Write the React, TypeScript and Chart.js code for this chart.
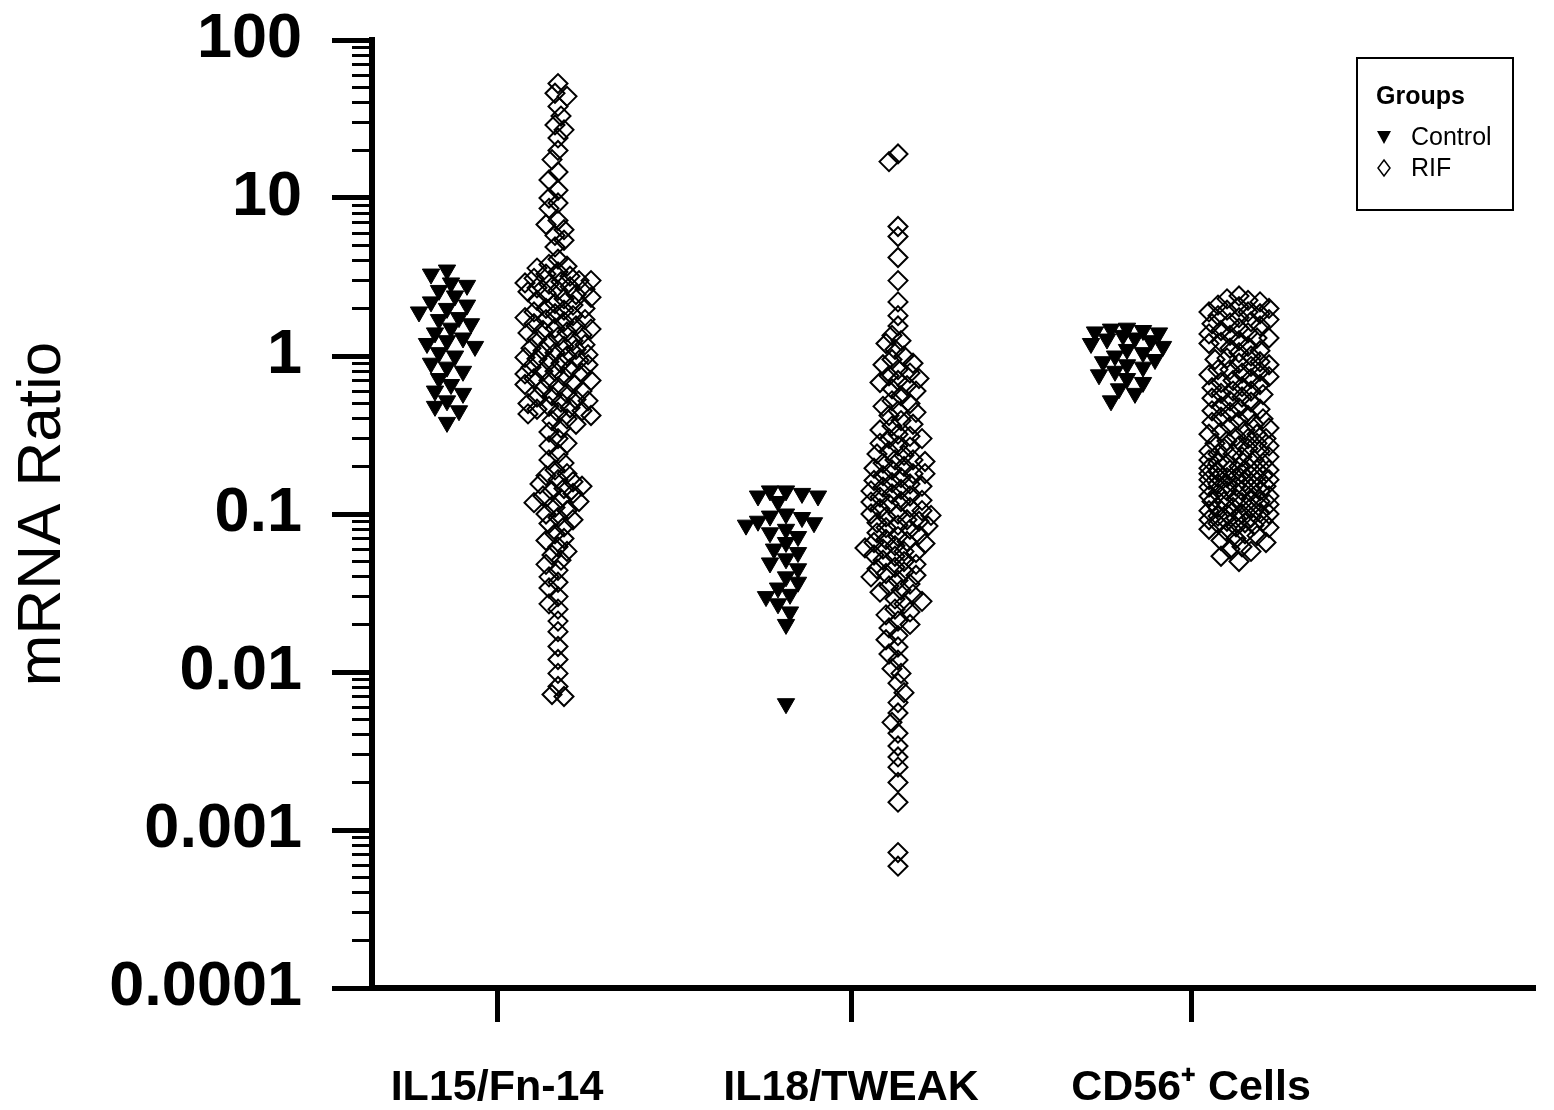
import React, { useEffect, useRef } from 'react';
import { Chart, registerables } from 'chart.js';

Chart.register(...registerables);

// ---------- data ----------
const CATEGORIES = ['IL15/Fn-14', 'IL18/TWEAK', 'CD56\u207A Cells'];
const Y_MAJOR_TICKS = [0.0001, 0.001, 0.01, 0.1, 1, 10, 100];
const Y_TICK_LABELS = ['0.0001', '0.001', '0.01', '0.1', '1', '10', '100'];
const SERIES_NAMES = ['Control', 'RIF'];
const LEGEND_TITLE = 'Groups';
const Y_TITLE = 'mRNA Ratio';

const CONTROL_IL15 = [3.5, 3.3, 2.9, 2.8, 2.6, 2.4, 2.2, 2.1, 2.0, 1.9, 1.75, 1.7, 1.6, 1.5, 1.4, 1.3, 1.25, 1.2, 1.15, 1.05, 1.0, 0.9, 0.85, 0.8, 0.72, 0.66, 0.6, 0.58, 0.52, 0.48, 0.45, 0.38];
const RIF_IL15 = [53, 46, 44, 38, 33, 29, 27, 24, 20, 17.5, 14.6, 13, 11.2, 10, 9.3, 8.6, 7.2, 6.8, 6.3, 5.8, 5.4, 4.9, 4.1,
  3.8, 3.7, 3.6, 3.4, 3.3, 3.2, 3.1, 3.0, 3.0, 2.95, 2.9, 2.85, 2.75, 2.7, 2.65, 2.6, 2.55, 2.5, 2.45, 2.35, 2.3, 2.25, 2.15, 2.1, 2.0, 2.0, 1.95, 1.9, 1.85, 1.8, 1.75, 1.7, 1.7, 1.65, 1.6, 1.55, 1.5, 1.48, 1.45, 1.42, 1.4, 1.36, 1.32, 1.28, 1.25, 1.2, 1.18, 1.15, 1.12, 1.1, 1.08, 1.05, 1.02, 1.0, 0.98, 0.96, 0.94, 0.92, 0.9, 0.88, 0.85, 0.83, 0.8, 0.8, 0.78, 0.77, 0.74, 0.72, 0.7, 0.7, 0.67, 0.66, 0.64, 0.62, 0.6, 0.58, 0.56, 0.55, 0.53, 0.52, 0.51, 0.5, 0.48, 0.47, 0.46, 0.45, 0.44, 0.43, 0.42, 0.4, 0.39,
  0.37, 0.35, 0.33, 0.3, 0.28, 0.27, 0.24, 0.22, 0.21, 0.19, 0.18, 0.175, 0.165, 0.16, 0.155, 0.15, 0.145, 0.14, 0.135, 0.13, 0.125, 0.12, 0.118, 0.11, 0.105, 0.1, 0.095, 0.092, 0.087, 0.083, 0.075, 0.07, 0.068, 0.062, 0.058, 0.055, 0.051, 0.048, 0.044, 0.04, 0.037, 0.034, 0.03, 0.027, 0.025, 0.021, 0.018, 0.0145, 0.012, 0.0098, 0.0081, 0.0072, 0.007];

const CONTROL_IL18 = [0.14, 0.14, 0.135, 0.13, 0.13, 0.12, 0.1, 0.097, 0.095, 0.09, 0.088, 0.085, 0.08, 0.076, 0.072, 0.066, 0.06, 0.057, 0.052, 0.049, 0.045, 0.04, 0.037, 0.034, 0.031, 0.03, 0.027, 0.024, 0.02, 0.0063];
const RIF_IL18 = [19, 17, 6.6, 5.7, 4.2, 3.0, 2.2, 1.8, 1.55, 1.35, 1.25, 1.2, 1.1, 1.0,
  0.95, 0.9, 0.88, 0.82, 0.78, 0.75, 0.72, 0.7, 0.68, 0.65, 0.62, 0.6, 0.56, 0.52, 0.5, 0.48, 0.45, 0.44, 0.42, 0.39, 0.37, 0.36, 0.34, 0.32, 0.31, 0.3, 0.3, 0.28, 0.27, 0.265, 0.25, 0.24, 0.235, 0.22, 0.22, 0.215, 0.21, 0.2, 0.195, 0.19, 0.18, 0.18, 0.175, 0.17, 0.163, 0.158, 0.155, 0.15, 0.148, 0.143, 0.14, 0.134, 0.13, 0.128, 0.122, 0.12, 0.119, 0.116, 0.11, 0.108, 0.105, 0.1, 0.1, 0.098, 0.096, 0.092, 0.09, 0.088, 0.085, 0.084, 0.082, 0.08, 0.076, 0.074, 0.072, 0.069, 0.067, 0.066, 0.065, 0.063, 0.061, 0.06, 0.058, 0.057, 0.055, 0.054, 0.051, 0.05, 0.048, 0.046, 0.045, 0.043, 0.042, 0.041, 0.04, 0.038, 0.036, 0.035, 0.033, 0.032, 0.031, 0.029, 0.028, 0.027, 0.025, 0.024, 0.023, 0.021, 0.02, 0.019, 0.017, 0.016,
  0.0144, 0.013, 0.0119, 0.0105, 0.0098, 0.0085, 0.0074, 0.0064, 0.0055, 0.0048, 0.0041, 0.0034, 0.0029, 0.0025, 0.002, 0.0015, 0.00072, 0.00059];

const CONTROL_CD56 = [1.5, 1.48, 1.45, 1.42, 1.4, 1.35, 1.3, 1.28, 1.25, 1.2, 1.15, 1.1, 1.05, 1.0, 0.95, 0.92, 0.88, 0.85, 0.8, 0.76, 0.72, 0.68, 0.62, 0.58, 0.52];
const RIF_CD56 = [2.4, 2.3, 2.25, 2.2, 2.1, 2.05, 2.0, 1.95, 1.9, 1.9, 1.85, 1.8, 1.75, 1.7, 1.65, 1.62, 1.6, 1.55, 1.5, 1.45, 1.4, 1.38, 1.35, 1.3, 1.3, 1.25, 1.22, 1.2, 1.15, 1.12, 1.08, 1.05, 1.0, 0.97, 0.95, 0.92, 0.9, 0.88, 0.86, 0.82, 0.82, 0.8, 0.78, 0.76, 0.74, 0.72, 0.7, 0.68, 0.66, 0.64, 0.63, 0.6, 0.6, 0.58, 0.57, 0.55, 0.54, 0.52, 0.51, 0.48, 0.47, 0.46, 0.45, 0.44, 0.42, 0.41, 0.4, 0.39, 0.38, 0.37, 0.36, 0.35, 0.34, 0.33, 0.32, 0.32, 0.31, 0.3, 0.3, 0.29, 0.28, 0.28, 0.27, 0.27, 0.26, 0.26, 0.25, 0.25, 0.24, 0.24, 0.23, 0.23, 0.22, 0.22, 0.21, 0.21, 0.21, 0.2, 0.2, 0.195, 0.19, 0.19, 0.19, 0.185, 0.18, 0.18, 0.175, 0.175, 0.17, 0.17, 0.17, 0.165, 0.165, 0.16, 0.16, 0.155, 0.155, 0.15, 0.15, 0.148, 0.145, 0.14, 0.14, 0.14, 0.135, 0.13, 0.13, 0.125, 0.125, 0.12, 0.12, 0.12, 0.118, 0.115, 0.11, 0.11, 0.11, 0.105, 0.102, 0.1, 0.1, 0.1, 0.097, 0.095, 0.094, 0.092, 0.09, 0.09, 0.088, 0.087, 0.085, 0.083, 0.082, 0.08, 0.077, 0.075, 0.073, 0.07, 0.068, 0.066, 0.062, 0.06, 0.058, 0.054, 0.05];

const CONTROL_GROUPS = [CONTROL_IL15, CONTROL_IL18, CONTROL_CD56];
const RIF_GROUPS = [RIF_IL15, RIF_IL18, RIF_CD56];

// ---------- layout (x axis in pixel-like units) ----------
const X_MAX = 1163;
const CATEGORY_POS = [125, 479, 819];
const CONTROL_CENTER = [75, 414, 755];
const RIF_CENTER = [186, 526, 867];
const CONTROL_HALF = [40, 40, 36];
const RIF_HALF = [35, 35, 30];
const PX_PER_DECADE = 158;

const FONT = '"Liberation Sans", Arial, Helvetica, sans-serif';

function swarm(values: number[], center: number, d: number, step: number, maxHalf: number) {
  const items = values.map((v, i) => ({ v, i, y: Math.log10(v) * PX_PER_DECADE }));
  const sorted = [...items].sort((a, b) => b.y - a.y);
  const placed: { x: number; y: number }[] = [];
  const out: { x: number; y: number }[] = new Array(values.length);
  const maxK = Math.floor(maxHalf / step);
  let flip = 1;
  for (const p of sorted) {
    let best = 0;
    let bestScore = Infinity;
    for (let k = 0; k <= 2 * maxK; k++) {
      const off = (k === 0 ? 0 : (k % 2 === 1 ? flip : -flip) * Math.ceil(k / 2) * step);
      let score = 0;
      for (const q of placed) {
        const dist = Math.hypot(q.x - off, q.y - p.y);
        if (dist < d) score += d - dist;
      }
      if (score === 0) { best = off; bestScore = 0; break; }
      if (score < bestScore) { bestScore = score; best = off; }
    }
    flip = -flip;
    placed.push({ x: best, y: p.y });
    out[p.i] = { x: center + best, y: p.v };
  }
  return out;
}

const legendPlugin = {
  id: 'boxLegend',
  afterDraw(chart: any) {
    const ctx = chart.ctx;
    ctx.save();
    ctx.strokeStyle = '#000';
    ctx.lineWidth = 2;
    ctx.strokeRect(1357, 58, 156, 152);
    ctx.fillStyle = '#000';
    ctx.textBaseline = 'alphabetic';
    ctx.textAlign = 'left';
    ctx.font = `bold 25px ${FONT}`;
    ctx.fillText(LEGEND_TITLE, 1376, 104);
    ctx.font = `25px ${FONT}`;
    ctx.fillText(SERIES_NAMES[0], 1411, 145);
    ctx.fillText(SERIES_NAMES[1], 1411, 176);
    ctx.beginPath();
    ctx.moveTo(1377, 131);
    ctx.lineTo(1391, 131);
    ctx.lineTo(1384, 144);
    ctx.closePath();
    ctx.fill();
    ctx.beginPath();
    ctx.moveTo(1384, 160);
    ctx.lineTo(1390, 168);
    ctx.lineTo(1384, 176);
    ctx.lineTo(1378, 168);
    ctx.closePath();
    ctx.lineWidth = 1.5;
    ctx.stroke();
    ctx.restore();
  },
};

export default function App() {
  const ref = useRef<HTMLCanvasElement>(null);

  useEffect(() => {
    document.body.style.margin = '0';
    const canvas = ref.current;
    if (!canvas) return;

    const controlData = CONTROL_GROUPS.flatMap((g, i) => swarm(g, CONTROL_CENTER[i], 13, 4, CONTROL_HALF[i]));
    const rifData = RIF_GROUPS.flatMap((g, i) => swarm(g, RIF_CENTER[i], 10, 3, RIF_HALF[i]));

    const chart = new Chart(canvas, {
      type: 'scatter',
      data: {
        datasets: [
          {
            label: SERIES_NAMES[0],
            data: controlData,
            pointStyle: 'triangle',
            rotation: 180,
            radius: 10,
            hoverRadius: 10,
            backgroundColor: '#000',
            borderColor: '#000',
            borderWidth: 1,
          },
          {
            label: SERIES_NAMES[1],
            data: rifData,
            pointStyle: 'rectRot',
            radius: 9.5,
            hoverRadius: 9.5,
            backgroundColor: 'rgba(0,0,0,0)',
            borderColor: '#000',
            borderWidth: 2,
          },
        ],
      },
      options: {
        responsive: false,
        animation: false,
        events: [],
        layout: { padding: { top: 40, right: 19, bottom: 0, left: 0 } },
        plugins: {
          legend: { display: false },
          tooltip: { enabled: false },
        },
        scales: {
          x: {
            type: 'linear',
            min: 0,
            max: X_MAX,
            grid: { drawOnChartArea: false, tickLength: 34, tickWidth: 5, tickColor: '#000' },
            border: { display: true, width: 6, color: '#000' },
            afterBuildTicks: (scale: any) => {
              scale.ticks = CATEGORY_POS.map((v) => ({ value: v }));
            },
            afterFit: (scale: any) => { scale.height = 122; },
            ticks: {
              autoSkip: false,
              maxRotation: 0,
              padding: 40,
              color: '#000',
              font: { family: FONT, size: 43, weight: 'bold' },
              callback: (_v: any, i: number) => CATEGORIES[i],
            },
          },
          y: {
            type: 'logarithmic',
            position: 'left',
            weight: 1,
            min: 0.0001,
            max: 100,
            grid: { drawOnChartArea: false, tickLength: 40, tickWidth: 5, tickColor: '#000' },
            border: { display: true, width: 6, color: '#000' },
            afterBuildTicks: (scale: any) => {
              scale.ticks = Y_MAJOR_TICKS.map((v) => ({ value: v, major: true }));
            },
            afterFit: (scale: any) => {
              scale.width = 372;
              scale.paddingTop = 10;
              scale.paddingBottom = 10;
            },
            ticks: {
              autoSkip: false,
              padding: 30,
              color: '#000',
              font: { family: FONT, size: 63, weight: 'bold' },
              callback: (v: any) => {
                const idx = Y_MAJOR_TICKS.findIndex((t) => Math.abs(Math.log10(t) - Math.log10(Number(v))) < 1e-6);
                return idx >= 0 ? Y_TICK_LABELS[idx] : '';
              },
            },
            title: {
              display: true,
              text: Y_TITLE,
              color: '#000',
              font: { family: FONT, size: 62, weight: 'normal' },
              padding: { top: 6, bottom: 0 },
            },
          },
          yMinor: {
            type: 'logarithmic',
            position: 'left',
            weight: 0,
            min: 0.0001,
            max: 100,
            grid: { drawOnChartArea: false, tickLength: 20, tickWidth: 3, tickColor: '#000' },
            border: { display: false },
            afterBuildTicks: (scale: any) => {
              const minor: { value: number }[] = [];
              for (let e = -4; e < 2; e++) {
                for (let m = 2; m <= 9; m++) minor.push({ value: m * Math.pow(10, e) });
              }
              scale.ticks = minor;
            },
            afterFit: (scale: any) => { scale.width = 0; },
            ticks: { display: false, autoSkip: false },
          },
        },
      },
      plugins: [legendPlugin],
    } as any);

    return () => chart.destroy();
  }, []);

  return (
    <div style={{ width: 1554, height: 1110, background: '#fff' }}>
      <canvas ref={ref} width={1554} height={1110} />
    </div>
  );
}
